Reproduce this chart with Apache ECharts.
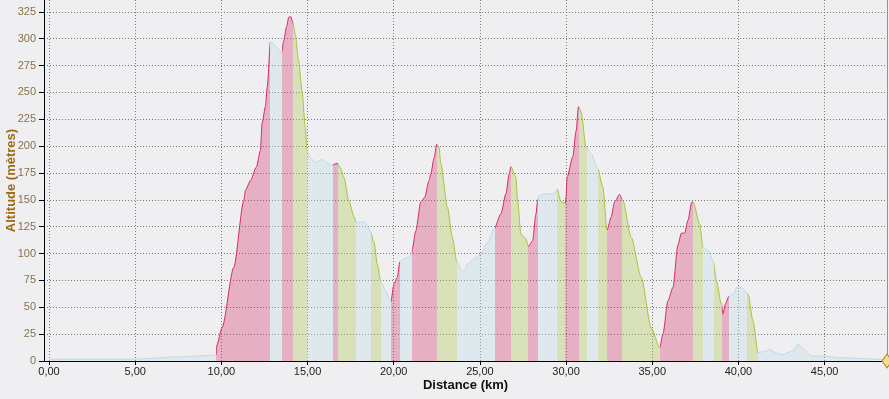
<!DOCTYPE html>
<html>
<head>
<meta charset="utf-8">
<script src="https://cdn.jsdelivr.net/npm/echarts@6/dist/echarts.min.js"></script>
<style>
  html, body { margin: 0; padding: 0; background: #efeff2; }
  #chart { width: 889px; height: 399px; }
</style>
</head>
<body>
<div id="chart"></div>
<script>
// profile points: distance (km) / altitude (m)
var distance = [
  0, 2.5, 4.9, 6.0, 7.2, 8.5, 9.65, 9.7,
  9.72, 10.04, 10.72, 11.3, 11.4, 11.69, 12.03, 12.27, 12.36, 12.56, 12.66, 12.85,
  13.0, 13.2, 13.49,
  13.62, 13.78, 13.91, 14.03, 14.15,
  14.29, 14.48, 14.68, 14.87, 14.97,
  15.16, 15.47, 15.85, 16.12, 16.43,
  16.53, 16.72,
  16.91, 17.11, 17.4, 17.7, 17.83,
  18.08, 18.27, 18.44, 18.63,
  18.86, 19.05, 19.24,
  19.53, 19.83,
  20.02, 20.21, 20.35,
  20.4, 20.56, 20.9, 21.05,
  21.08, 21.28, 21.57, 21.8, 22.05, 22.15, 22.34, 22.5,
  22.63, 22.73, 23.12, 23.41, 23.66,
  23.99, 24.09, 24.28, 24.67, 25.06, 25.45, 25.83,
  26.22, 26.51, 26.7, 26.8,
  27.09, 27.19, 27.38, 27.67, 27.81,
  28.06, 28.25, 28.35, 28.45,
  28.74, 29.32, 29.48,
  29.71, 29.96,
  30.0, 30.06, 30.39, 30.58, 30.72,
  30.87, 31.16,
  31.45, 31.84,
  32.13, 32.38,
  32.62, 32.81, 33.1,
  33.3, 33.78, 34.36, 34.94, 35.43,
  35.62, 35.91, 36.2, 36.49, 36.69, 36.88, 37.07, 37.3,
  37.37, 37.75, 37.94,
  38.24, 38.53,
  38.72, 39.01, 39.1,
  39.24, 39.44,
  39.69, 39.92, 40.17, 40.3,
  40.56, 40.85, 41.14,
  41.63, 41.82, 42.11, 42.5, 43.18, 43.47, 43.76, 44.24, 44.83, 45.99, 47.5, 48.62
];
var altitude = [
  1.6, 1.6, 1.6, 2.5, 3.7, 4.5, 5.6, 6,
  14, 31, 87, 149, 159, 168, 180.5, 196, 221, 237, 255, 297,
  296, 292, 287,
  298, 311, 320, 320.5, 315,
  304, 279.5, 251.5, 217.5, 196,
  189, 185, 187.5, 184.5, 182,
  183, 184,
  180, 171, 149, 134, 129,
  129, 129.7, 127, 121,
  110.5, 90, 74.7,
  65, 55,
  72, 78, 92,
  93, 94.7, 97, 100,
  104.6, 121, 148, 152.5, 168, 174, 189, 202,
  198.7, 183.7, 143, 115, 92,
  82.5, 84, 90, 95, 99.6, 110.5, 123,
  137, 155.6, 174, 181,
  171, 149, 118, 113.6, 106.5,
  112, 136.6, 149.4, 154,
  155.6, 155.6, 160,
  148, 147,
  152.5, 171, 190, 214, 236.6,
  232, 199,
  193, 179,
  162, 122,
  134, 148, 155,
  149, 115, 78, 31, 12.4,
  25, 56, 68.5, 108, 119, 119, 131, 148,
  148, 127.6, 106,
  103, 93.4,
  74.7, 53, 43.6,
  53, 60,
  62, 69, 68.5, 66.8,
  62, 37, 7.8,
  9.3, 11, 8, 6, 9.3, 16, 11, 4.7, 4.7, 3, 2, 1
];

// slope segments: start km and kind
var segStart = [0, 9.71, 12.85, 13.49, 14.17, 14.98, 16.45, 16.74, 17.83, 18.66, 19.24, 19.83,
  20.35, 21.05, 22.5, 23.66, 25.87, 26.8, 27.81, 28.37, 29.48, 29.96, 30.74, 31.2, 31.84,
  32.38, 33.24, 35.43, 37.37, 37.94, 38.56, 39.07, 39.44, 40.47, 41.14];
var segType = ['flat', 'up', 'flat', 'up', 'down', 'flat', 'up', 'down', 'flat', 'down', 'flat', 'up',
  'flat', 'up', 'down', 'flat', 'up', 'down', 'up', 'flat', 'down', 'up', 'down', 'flat', 'down',
  'up', 'down', 'up', 'down', 'flat', 'down', 'up', 'flat', 'down', 'flat'];

var yTicks = { min: 0, max: 336, step: 25 };

var colors = { up: '#d42a62', down: '#a6c23c', flat: '#bcd9e4' };

var points = distance.map(function (d, i) { return [d, altitude[i]]; });

var pieces = segStart.map(function (s, i) {
  var p = { gte: s, color: colors[segType[i]] };
  if (i < segStart.length - 1) p.lt = segStart[i + 1];
  return p;
});

var endKm = distance[distance.length - 1];
var dotted = { color: '#7a7a7a', type: [1, 2], width: 1 };

var chart = echarts.init(document.getElementById('chart'));

chart.setOption({
  backgroundColor: '#efeff2',
  animation: false,
  textStyle: { fontFamily: 'Liberation Sans, Arial, sans-serif' },
  grid: { left: 44, right: 2, top: 0, bottom: 38, containLabel: false, outerBoundsMode: 'none' },
  xAxis: {
    type: 'value',
    min: -0.29,
    max: endKm,
    splitNumber: 10,
    name: 'Distance (km)',
    nameLocation: 'middle',
    nameGap: 18,
    nameMoveOverlap: false,
    nameTextStyle: { color: '#111', fontWeight: 'bold', fontSize: 13 },
    axisLine: { onZero: false, lineStyle: { color: '#000' } },
    axisTick: { length: 4, lineStyle: { color: '#000' } },
    axisLabel: {
      color: '#222', fontSize: 11, margin: 5,
      showMinLabel: false, showMaxLabel: false,
      formatter: function (v) { return v.toFixed(2).replace('.', ','); }
    },
    splitLine: { show: true, showMinLine: false, showMaxLine: false, lineStyle: dotted }
  },
  yAxis: {
    type: 'value',
    min: yTicks.min,
    max: yTicks.max,
    interval: yTicks.step,
    name: 'Altitude (mètres)',
    nameLocation: 'middle',
    nameGap: 26,
    nameMoveOverlap: false,
    nameTextStyle: { color: '#9c6a14', fontWeight: 'bold', fontSize: 13 },
    axisLine: { show: true, onZero: false, lineStyle: { color: '#000' } },
    axisTick: { show: true, length: 5, lineStyle: { color: '#000' } },
    axisLabel: { color: '#8b6f47', fontSize: 11, margin: 8, showMaxLabel: false },
    splitLine: { show: true, showMaxLine: false, showMinLine: false, lineStyle: dotted }
  },
  visualMap: {
    show: false,
    type: 'piecewise',
    dimension: 0,
    seriesIndex: 0,
    pieces: pieces,
    outOfRange: { color: colors.flat }
  },
  series: [{
    type: 'line',
    data: points,
    showSymbol: false,
    smooth: 0.25,
    smoothMonotone: 'x',
    lineStyle: { width: 1 },
    areaStyle: { opacity: 0.32 },
    markLine: {
      silent: true,
      symbol: 'none',
      label: { show: false },
      lineStyle: { color: '#a88f5c', type: 'solid', width: 1 },
      data: [{ xAxis: endKm }]
    },
    markPoint: {
      silent: true,
      symbol: 'diamond',
      symbolSize: [10, 14],
      label: { show: false },
      itemStyle: { color: '#f5df8a', borderColor: '#b0802a', borderWidth: 1 },
      data: [{ coord: [endKm, 0] }]
    }
  }]
});
</script>
</body>
</html>
